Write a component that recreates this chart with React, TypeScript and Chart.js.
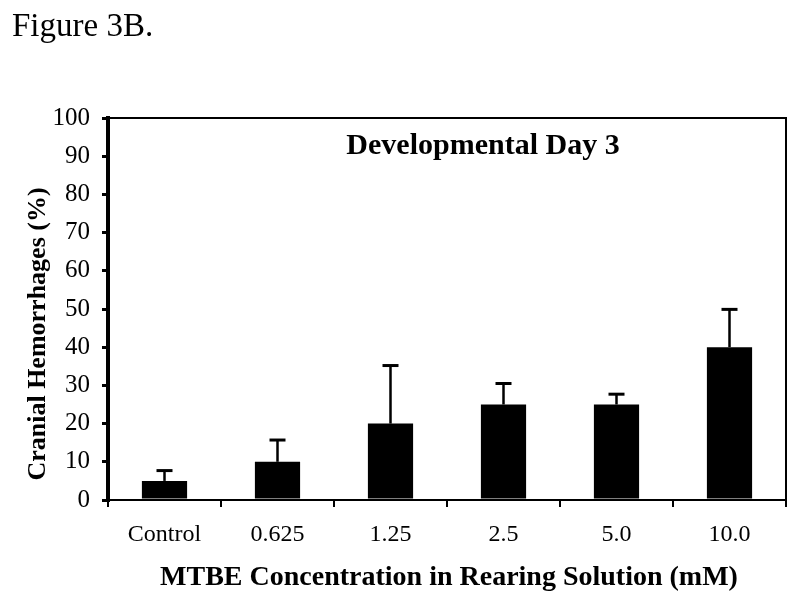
import React, { useEffect, useRef } from "react";
import { Chart, registerables } from "chart.js";

Chart.register(...registerables);

const categories = ["Control", "0.625", "1.25", "2.5", "5.0", "10.0"];
const meanValues = [5, 10, 20, 25, 25, 40];
const errorUpper = [7.7, 15.7, 35.2, 30.5, 27.7, 49.9];
const yTicks = [0, 10, 20, 30, 40, 50, 60, 70, 80, 90, 100];

const FONT = "'Liberation Serif', 'Times New Roman', serif";

const decorPlugin = {
  id: "decor",
  afterDatasetsDraw(chart: any) {
    const ctx = chart.ctx;
    const yScale = chart.scales.y;
    const meta = chart.getDatasetMeta(0);
    ctx.save();
    ctx.strokeStyle = "#000";
    meta.data.forEach((bar: any, i: number) => {
      const x = bar.x;
      const yTop = yScale.getPixelForValue(meanValues[i]);
      const yErr = yScale.getPixelForValue(errorUpper[i]);
      ctx.lineWidth = 2.5;
      ctx.beginPath();
      ctx.moveTo(x, yTop);
      ctx.lineTo(x, yErr);
      ctx.stroke();
      ctx.lineWidth = 3;
      ctx.beginPath();
      ctx.moveTo(x - 8, yErr);
      ctx.lineTo(x + 8, yErr);
      ctx.stroke();
    });
    ctx.restore();
  },
  afterDraw(chart: any) {
    const ctx = chart.ctx;
    const area = chart.chartArea;
    ctx.save();
    ctx.strokeStyle = "#000";
    ctx.lineWidth = 2;
    ctx.beginPath();
    ctx.moveTo(area.left, area.top);
    ctx.lineTo(area.right, area.top);
    ctx.lineTo(area.right, area.bottom + 7);
    ctx.stroke();

    ctx.fillStyle = "#000";
    ctx.font = `33px ${FONT}`;
    ctx.textAlign = "left";
    ctx.textBaseline = "alphabetic";
    ctx.fillText("Figure 3B.", 12, 36);

    ctx.font = `bold 30px ${FONT}`;
    ctx.textAlign = "center";
    ctx.textBaseline = "middle";
    ctx.fillText("Developmental Day 3", 483, 146);

    ctx.font = `bold 28px ${FONT}`;
    ctx.fillText("MTBE Concentration in Rearing Solution (mM)", 449, 578);

    ctx.translate(38, 334);
    ctx.rotate(-Math.PI / 2);
    ctx.font = `bold 26px ${FONT}`;
    ctx.fillText("Cranial Hemorrhages (%)", 0, 0);
    ctx.restore();
  },
};

export default function App() {
  const canvasRef = useRef<HTMLCanvasElement | null>(null);

  useEffect(() => {
    document.body.style.margin = "0";
    const canvas = canvasRef.current;
    if (!canvas) return;
    const chart = new Chart(canvas, {
      type: "bar",
      data: {
        labels: categories,
        datasets: [
          {
            data: meanValues,
            backgroundColor: "#000",
            borderWidth: 0,
            barPercentage: 0.4,
            categoryPercentage: 1,
          },
        ],
      },
      options: {
        responsive: false,
        animation: false,
        devicePixelRatio: 1,
        layout: { padding: { top: 118, right: 14, left: 0, bottom: 0 } },
        plugins: {
          legend: { display: false },
          tooltip: { enabled: false },
          title: { display: false },
        },
        scales: {
          x: {
            afterFit(scale: any) {
              scale.height = 104;
            },
            grid: {
              display: true,
              drawOnChartArea: false,
              drawTicks: true,
              tickLength: 7,
              color: "#000",
              lineWidth: 2,
              offset: true,
            },
            border: { display: true, color: "#000", width: 2 },
            ticks: {
              color: "#000",
              font: { family: FONT, size: 24 },
              padding: 13,
              maxRotation: 0,
            },
          },
          y: {
            min: 0,
            max: 100,
            afterFit(scale: any) {
              scale.width = 108;
            },
            afterBuildTicks(scale: any) {
              scale.ticks = yTicks.map((v) => ({ value: v }));
            },
            grid: {
              display: true,
              drawOnChartArea: false,
              drawTicks: true,
              tickLength: 6,
              color: "#000",
              lineWidth: 3,
            },
            border: { display: true, color: "#000", width: 4 },
            ticks: {
              color: "#000",
              font: { family: FONT, size: 25 },
              padding: 12,
              stepSize: 10,
            },
          },
        },
      },
      plugins: [decorPlugin],
    } as any);
    return () => chart.destroy();
  }, []);

  return (
    <div style={{ position: "fixed", left: 0, top: 0, width: 800, height: 604, background: "#fff" }}>
      <canvas ref={canvasRef} width={800} height={604} />
    </div>
  );
}
